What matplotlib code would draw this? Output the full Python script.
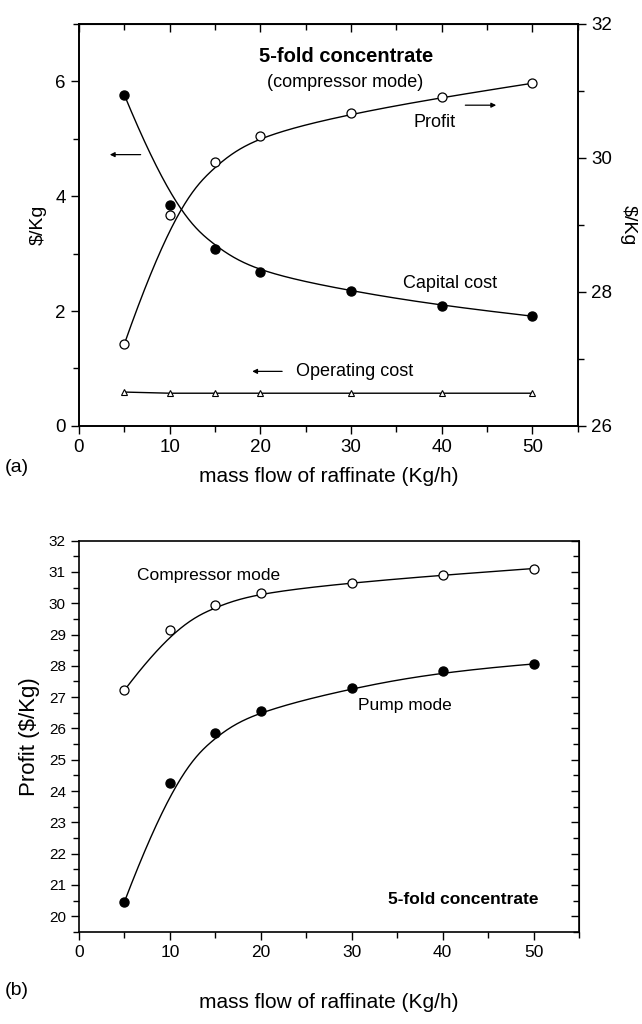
import numpy as np
import matplotlib
matplotlib.use("Agg")
from matplotlib import pyplot as plt
from matplotlib.ticker import MultipleLocator

plt.rcParams['font.family'] = ['Liberation Sans', 'DejaVu Sans']

# data
flow = np.array([5, 10, 15, 20, 30, 40, 50])
capital_cost = np.array([5.76, 3.85, 3.08, 2.67, 2.34, 2.09, 1.91])
operating_cost = np.array([0.59, 0.57, 0.57, 0.57, 0.57, 0.57, 0.57])
profit_compressor = np.array([27.22, 29.14, 29.93, 30.33, 30.66, 30.90, 31.11])
profit_pump = np.array([20.46, 24.26, 25.86, 26.56, 27.30, 27.82, 28.06])


def basis(i, p, u, t):
    """Cox-de Boor recursion"""
    if p == 0:
        return ((t[i] <= u) & (u < t[i + 1])).astype(float)
    a = 0.0
    b = 0.0
    if t[i + p] != t[i]:
        a = (u - t[i]) / (t[i + p] - t[i]) * basis(i, p - 1, u, t)
    if t[i + p + 1] != t[i + 1]:
        b = (t[i + p + 1] - u) / (t[i + p + 1] - t[i + 1]) * basis(i + 1, p - 1, u, t)
    return a + b


def bspline(x, y, k=3, n=300):
    """clamped B-spline with the data points as control points (Origin style)"""
    m = len(x)
    t = np.concatenate([np.zeros(k), np.arange(m - k + 1), np.full(k, m - k)]).astype(float)
    u = np.linspace(0, m - k, n)
    u[-1] -= 1e-9
    B = np.array([basis(i, k, u, t) for i in range(m)])
    return B.T @ x, B.T @ y


def style_ticks(ax, size):
    ax.tick_params(which='both', width=1, labelsize=size)
    ax.tick_params(which='major', length=6)
    ax.tick_params(which='minor', length=4)
    for s in ax.spines.values():
        s.set_linewidth(1.2)


fig = plt.figure(figsize=(6.42, 10.24), dpi=100)

# ---------- panel (a)
ax1 = fig.add_axes([0.123, 0.584, 0.777, 0.393])
ax2 = ax1.twinx()

xs, ys = bspline(flow, capital_cost)
ax1.plot(xs, ys, 'k-', lw=1)
ax1.plot(flow, capital_cost, 'ko', ms=6.5)
ax1.plot(flow, operating_cost, 'k-', lw=1)
ax1.plot(flow, operating_cost, 'k^', ms=4.5, mfc='white', mew=0.8)

xs, ys = bspline(flow, profit_compressor)
ax2.plot(xs, ys, 'k-', lw=1)
ax2.plot(flow, profit_compressor, 'ko', ms=6.5, mfc='white', mew=0.9)

ax1.set_xlim(0, 55)
ax1.set_ylim(0, 7)
ax2.set_ylim(26, 32)
ax1.set_xticks([0, 10, 20, 30, 40, 50])
ax1.xaxis.set_minor_locator(MultipleLocator(5))
ax1.set_yticks([0, 2, 4, 6])
ax1.yaxis.set_minor_locator(MultipleLocator(1))
ax2.set_yticks([26, 28, 30, 32])
ax2.yaxis.set_minor_locator(MultipleLocator(1))
style_ticks(ax1, 13.5)
style_ticks(ax2, 13.5)

top = ax1.secondary_xaxis('top')
top.set_xticks([0, 10, 20, 30, 40, 50])
top.xaxis.set_minor_locator(MultipleLocator(5))
top.tick_params(which='both', direction='in', labeltop=False, width=1)
top.tick_params(which='major', length=6)
top.tick_params(which='minor', length=4)

ax1.set_ylabel('$/Kg', fontsize=14, labelpad=6)
ax2.set_ylabel('$/Kg', fontsize=14, rotation=270, labelpad=18)
ax1.set_xlabel('mass flow of raffinate (Kg/h)', fontsize=15, labelpad=8)

ax1.text(29.5, 6.42, '5-fold concentrate', fontsize=14.5, fontweight='bold', ha='center', va='center')
ax1.text(29.3, 5.97, '(compressor mode)', fontsize=13, ha='center', va='center')
ax1.text(39.2, 5.28, 'Profit', fontsize=13, ha='center', va='center')
ax1.text(40.9, 2.47, 'Capital cost', fontsize=13, ha='center', va='center')
ax1.text(23.9, 0.95, 'Operating cost', fontsize=13, ha='left', va='center')

arrow = dict(arrowstyle='-|>', color='k', lw=0.9, mutation_scale=7, shrinkA=0, shrinkB=0)
ax1.annotate('', xy=(3.4, 4.72), xytext=(6.8, 4.72), arrowprops=arrow)
ax1.annotate('', xy=(46.0, 5.58), xytext=(42.6, 5.58), arrowprops=arrow)
ax1.annotate('', xy=(19.1, 0.95), xytext=(22.4, 0.95), arrowprops=arrow)
fig.text(0.008, 0.543, '(a)', fontsize=14, va='center')

# ---------- panel (b)
ax3 = fig.add_axes([0.123, 0.090, 0.779, 0.382])
xs, ys = bspline(flow, profit_compressor)
ax3.plot(xs, ys, 'k-', lw=1)
ax3.plot(flow, profit_compressor, 'ko', ms=6.5, mfc='white', mew=0.9)
xs, ys = bspline(flow, profit_pump)
ax3.plot(xs, ys, 'k-', lw=1)
ax3.plot(flow, profit_pump, 'ko', ms=6.5)

ax3.set_xlim(0, 55)
ax3.set_ylim(19.5, 32)
ax3.set_xticks([0, 10, 20, 30, 40, 50])
ax3.xaxis.set_minor_locator(MultipleLocator(5))
ax3.set_yticks(np.arange(20, 33, 1))
ax3.yaxis.set_minor_locator(MultipleLocator(0.5))
style_ticks(ax3, 12.5)
ax3.tick_params(axis='y', labelsize=11)

right = ax3.secondary_yaxis('right')
right.set_yticks(np.arange(20, 33, 1))
right.yaxis.set_minor_locator(MultipleLocator(0.5))
right.tick_params(which='both', direction='in', labelright=False, width=1)
right.tick_params(which='major', length=6)
right.tick_params(which='minor', length=4)

ax3.set_ylabel('Profit ($/Kg)', fontsize=16, labelpad=6)
ax3.set_xlabel('mass flow of raffinate (Kg/h)', fontsize=15, labelpad=24)

ax3.text(14.3, 30.88, 'Compressor mode', fontsize=12.5, ha='center', va='center')
ax3.text(35.8, 26.72, 'Pump mode', fontsize=12.5, ha='center', va='center')
ax3.text(42.3, 20.53, '5-fold concentrate', fontsize=12.5, fontweight='bold', ha='center', va='center')
fig.text(0.008, 0.033, '(b)', fontsize=14, va='center')

fig.savefig('out.png', dpi=100)
